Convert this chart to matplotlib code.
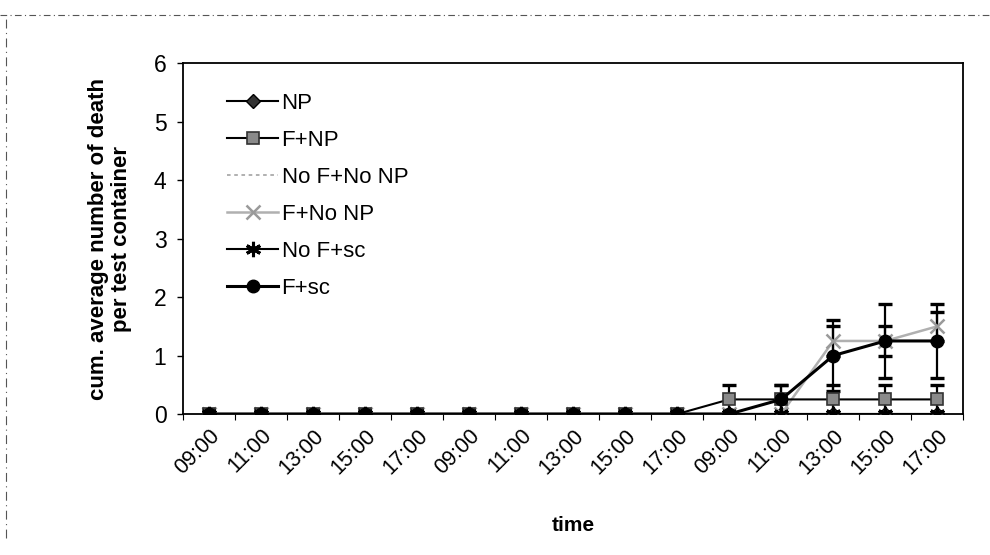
import numpy as np
import matplotlib.pyplot as plt
from matplotlib.lines import Line2D

plt.rcParams['font.family'] = ['Liberation Sans', 'DejaVu Sans']

# three observation days, five readings per day
time_labels = ["09:00", "11:00", "13:00", "15:00", "17:00",
               "09:00", "11:00", "13:00", "15:00", "17:00",
               "09:00", "11:00", "13:00", "15:00", "17:00"]

np_vals = [0, 0, 0, 0, 0, 0, 0, 0, 0, 0, 0, 0, 0, 0, 0]
f_np = [0, 0, 0, 0, 0, 0, 0, 0, 0, 0, 0.25, 0.25, 0.25, 0.25, 0.25]
f_np_err = [0, 0, 0, 0, 0, 0, 0, 0, 0, 0, 0.25, 0.25, 0.25, 0.25, 0.25]
nof_nonp = [0, 0, 0, 0, 0, 0, 0, 0, 0, 0, 0, 0, 0, 0, 0]
f_nonp = [0, 0, 0, 0, 0, 0, 0, 0, 0, 0, 0, 0, 1.25, 1.25, 1.5]
f_nonp_err = [0, 0, 0, 0, 0, 0, 0, 0, 0, 0, 0, 0, 0.25, 0.25, 0.25]
nof_sc = [0, 0, 0, 0, 0, 0, 0, 0, 0, 0, 0, 0, 0, 0, 0]
f_sc = [0, 0, 0, 0, 0, 0, 0, 0, 0, 0, 0, 0.25, 1.0, 1.25, 1.25]
f_sc_err = [0, 0, 0, 0, 0, 0, 0, 0, 0, 0, 0, 0.25, 0.6, 0.63, 0.63]

x = np.arange(len(time_labels))

fig = plt.figure(figsize=(9.9, 5.55), dpi=100)
ax = fig.add_axes([0.185, 0.254, 0.788, 0.632])

def with_err(vals, err, **kw):
    vals = np.array(vals, dtype=float)
    err = np.array(err, dtype=float)
    m = err > 0
    if m.any():
        ax.errorbar(x[m], vals[m], yerr=err[m], fmt='none', ecolor='black',
                    elinewidth=1.6, capsize=5, capthick=2.4, zorder=2)
    return ax.plot(x, vals, **kw)[0]

h_np = ax.plot(x, np_vals, color='black', lw=1.5, marker='D', ms=7,
               mfc='#333333', mec='black', zorder=3)[0]
h_nofnonp = ax.plot(x, nof_nonp, color='#aaaaaa', lw=1.3, ls=(0, (2, 2)),
                    zorder=3)[0]
h_fnonp = with_err(f_nonp, f_nonp_err, color='#b0b0b0', lw=1.8, marker='x',
                   ms=10, mew=1.8, mec='#9a9a9a', zorder=3)
h_fnp = with_err(f_np, f_np_err, color='black', lw=1.5, marker='s', ms=9,
                 mfc='#8a8a8a', mec='#333333', mew=1.2, zorder=4)
h_nofsc = ax.plot(x, nof_sc, color='black', lw=1.5, marker=(6, 2, 0), ms=11,
                  mew=2.2, mec='black', zorder=5)[0]
h_fsc = with_err(f_sc, f_sc_err, color='black', lw=2.2, marker='o', ms=9,
                 mfc='black', mec='black', zorder=6)

ax.set_xlim(-0.5, len(x) - 0.5)
ax.set_ylim(0, 6)
ax.set_yticks(range(0, 7))
ax.tick_params(axis='y', labelsize=16.5, length=4, width=1, direction='out',
               pad=8)

# category ticks sit between the readings, labels centred on each reading
ax.set_xticks(np.arange(-0.5, len(x), 1.0))
ax.set_xticklabels([])
ax.tick_params(axis='x', length=4, width=0.8, direction='out')
ax.set_xticks(x, minor=True)
ax.set_xticklabels(time_labels, minor=True, rotation=45, ha='right',
                   rotation_mode='anchor', fontsize=15.5)
ax.tick_params(axis='x', which='minor', length=0, pad=8)

for s in ax.spines.values():
    s.set_linewidth(1.3)
    s.set_color('black')

ax.set_ylabel("cum. average number of death\nper test container",
              fontsize=16, fontweight='bold', labelpad=16, linespacing=1.1)
ax.set_xlabel("time", fontsize=15, fontweight='bold', labelpad=27)

handles = [h_np, h_fnp, h_nofnonp, h_fnonp, h_nofsc, h_fsc]
labels = ["NP", "F+NP", "No F+No NP", "F+No NP", "No F+sc", "F+sc"]
ax.legend(handles, labels, loc='upper left', bbox_to_anchor=(0.045, 0.94),
          frameon=False, fontsize=16, handlelength=2.3, handletextpad=0.15,
          labelspacing=0.72, borderaxespad=0)

# broken border around the chart area
fig.add_artist(Line2D([0.0, 1.0], [0.973, 0.973], color='#555555', lw=0.8,
                      ls=(0, (6, 3, 1, 3))))
fig.add_artist(Line2D([0.006, 0.006], [0.03, 0.973], color='#555555', lw=0.8,
                      ls=(0, (8, 4, 1, 4))))

fig.savefig("out.png", dpi=100)
